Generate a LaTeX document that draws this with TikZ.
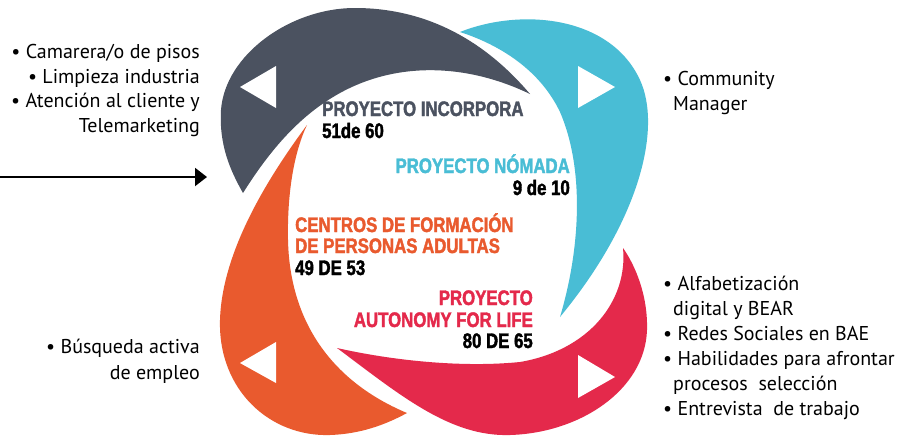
\documentclass[tikz,border=0pt]{standalone}
\usepackage{fontspec}
\setmainfont{PT Sans}
\newfontfamily\headfont[FakeStretch=0.80,FakeBold=1.8]{Liberation Sans}
\usetikzlibrary{arrows.meta}
\definecolor{cdark}{HTML}{4B5260}
\definecolor{ccyan}{HTML}{49BDD5}
\definecolor{corange}{HTML}{E95A2E}
\definecolor{ccrim}{HTML}{E4294B}
\begin{document}
\begin{tikzpicture}[x=1pt,y=-1pt,
  head/.style={inner sep=0pt,font=\headfont\bfseries\fontsize{21}{21}\selectfont},
  side/.style={inner sep=0pt,font=\fontsize{20}{22}\selectfont},
  tri/.style={fill=white}
  ]
\useasboundingbox[fill=white] (0,0) rectangle (915,437);

% dark petal
\fill[cdark] (530,94) .. controls (480,35) and (420,8) .. (355,8)
  .. controls (290,8) and (225,55) .. (221,110)
  .. controls (219,145) and (230,170) .. (243,193)
  .. controls (270,150) and (300,115) .. (340,93)
  .. controls (400,60) and (470,65) .. (530,94) -- cycle;
% cyan petal
\fill[ccyan] (460,32) .. controls (520,8) and (610,15) .. (640,80)
  .. controls (662,128) and (640,220) .. (560,317)
  .. controls (580,250) and (585,170) .. (560,112)
  .. controls (540,70) and (500,45) .. (460,32) -- cycle;
% orange petal
\fill[corange] (307,125) .. controls (270,175) and (222,250) .. (220,320)
  .. controls (218,390) and (270,437) .. (330,435)
  .. controls (360,434) and (385,425) .. (407,413)
  .. controls (340,385) and (290,330) .. (288,240)
  .. controls (287,190) and (295,150) .. (307,125) -- cycle;
% crimson petal
\fill[ccrim] (337,348) .. controls (400,395) and (450,437) .. (510,435)
  .. controls (580,433) and (645,390) .. (647,330)
  .. controls (648,295) and (635,265) .. (623,248)
  .. controls (628,300) and (590,350) .. (520,362)
  .. controls (460,368) and (390,360) .. (337,348) -- cycle;

% white triangles
\fill[tri] (240,87) -- (276,66) -- (276,108) -- cycle;
\fill[tri] (578,66) -- (578,108) -- (615,87) -- cycle;
\fill[tri] (240,363) -- (276,342) -- (276,383) -- cycle;
\fill[tri] (578,355) -- (578,398) -- (615,377) -- cycle;

% headings
\node[head,text=cdark,anchor=base west] (h1) at (322,116) {PROYECTO INCORPORA};
\node[head,anchor=base west] (h1n) at (322,138) {51de 60};
\node[head,text=ccyan,anchor=base east] (h2) at (570,173) {PROYECTO NÓMADA};
\node[head,anchor=base east] (h2n) at (570,195) {9 de 10};
\node[head,text=corange,anchor=base west] (h3a) at (295,232) {CENTROS DE FORMACIÓN};
\node[head,text=corange,anchor=base west] (h3b) at (295,253) {DE PERSONAS ADULTAS};
\node[head,anchor=base west] (h3n) at (295,275) {49 DE 53};
\node[head,text=ccrim,anchor=base east] (h4a) at (533,305) {PROYECTO};
\node[head,text=ccrim,anchor=base east] (h4b) at (533,327) {AUTONOMY FOR LIFE};
\node[head,anchor=base east] (h4n) at (533,348) {80 DE 65};

% left top text
\node[side,anchor=base east] (l1) at (200,58) {• Camarera/o de pisos};
\node[side,anchor=base east] (l2) at (200,83) {• Limpieza industria};
\node[side,anchor=base east] (l3) at (200,107) {• Atención al cliente y};
\node[side,anchor=base east] (l4) at (200,132) {Telemarketing};

% left bottom text
\node[side,anchor=base east] (b1) at (200,353) {• Búsqueda activa};
\node[side,anchor=base east] (b2) at (200,379) {de empleo};

% right top text
\node[side,anchor=base west] (r1) at (663,85) {• Community};
\node[side,anchor=base west] (r2) at (673,110) {Manager};

% right bottom text
\node[side,anchor=base west] (s1) at (663,290) {• Alfabetización};
\node[side,anchor=base west] (s2) at (673,315) {digital y BEAR};
\node[side,anchor=base west] (s3) at (663,340) {• Redes Sociales en BAE};
\node[side,anchor=base west] (s4) at (663,365) {• Habilidades para afrontar};
\node[side,anchor=base west] (s5) at (673,390) {procesos\ \ selección};
\node[side,anchor=base west] (s6) at (663,415) {• Entrevista\ \ de trabajo};

% arrow
\coordinate (arrowstart) at (0,177);
\coordinate (arrowend) at (207,177);
\draw[line width=2pt,-{Triangle[length=12pt,width=18pt]}] (arrowstart) -- (arrowend);
\end{tikzpicture}
\end{document}
